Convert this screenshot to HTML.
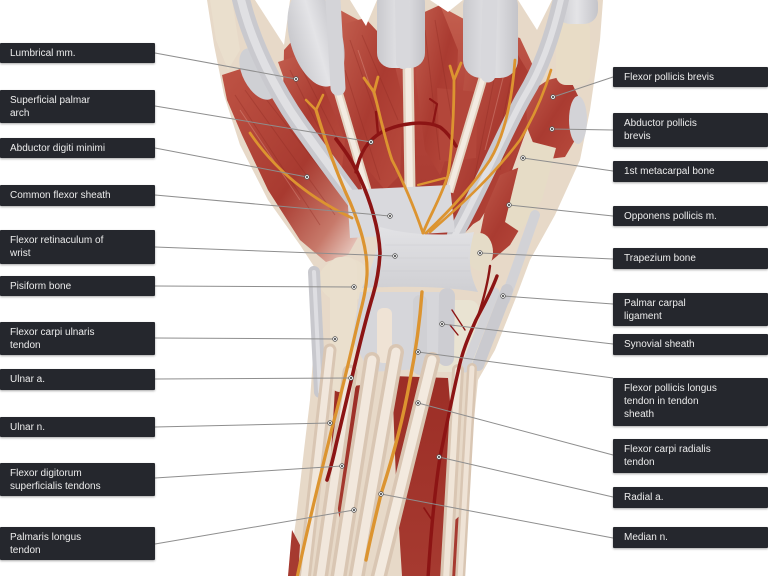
<!DOCTYPE html>
<html><head><meta charset="utf-8">
<style>
html,body{margin:0;padding:0;background:#fff;}
body{width:768px;height:576px;position:relative;overflow:hidden;font-family:"Liberation Sans",Arial,sans-serif;}
svg{position:absolute;left:0;top:0;}
.lb{position:absolute;background:#25272d;color:#ededed;font-size:10px;line-height:13.3px;padding:3.5px 6px 3.5px 10px;box-sizing:border-box;border-radius:1px;box-shadow:0 1px 2px rgba(0,0,0,.35);white-space:nowrap;}
.l{left:0;width:155px;}
.r{left:613px;width:155px;padding-left:11px;}
</style></head><body>
<svg width="768" height="576" viewBox="0 0 768 576" xmlns="http://www.w3.org/2000/svg">
<defs>
<linearGradient id="mu" x1="0" y1="0" x2="1" y2="1">
<stop offset="0" stop-color="#c25e4e"/><stop offset="0.5" stop-color="#aa3b31"/><stop offset="1" stop-color="#b94c3e"/>
</linearGradient>
<linearGradient id="mv" x1="0" y1="0" x2="0" y2="1">
<stop offset="0" stop-color="#c4604f"/><stop offset="0.4" stop-color="#b2443a"/><stop offset="1" stop-color="#a7392f"/>
</linearGradient>
<linearGradient id="hy" x1="0" y1="0" x2="1" y2="1">
<stop offset="0" stop-color="#bf5445"/><stop offset="0.55" stop-color="#a83a30"/><stop offset="0.8" stop-color="#c7796a"/><stop offset="1" stop-color="#f4e6de"/>
</linearGradient>
<linearGradient id="gr" x1="0" y1="0" x2="1" y2="0">
<stop offset="0" stop-color="#c9c9cd"/><stop offset="0.5" stop-color="#e4e4e7"/><stop offset="1" stop-color="#c4c4c9"/>
</linearGradient>
<linearGradient id="ret" x1="0" y1="0" x2="0" y2="1">
<stop offset="0" stop-color="#e2e2e5"/><stop offset="1" stop-color="#cfcfd3"/>
</linearGradient>
<linearGradient id="fm" x1="0" y1="0" x2="0" y2="1">
<stop offset="0" stop-color="#9c2e26"/><stop offset="1" stop-color="#a63a30"/>
</linearGradient>
</defs>

<!-- base silhouette -->
<path d="M207,0 L603,0 L600,40 L590,110 L580,160 L555,215 L530,260 L515,300 L495,350 L478,380 L472,440 L462,576 L288,576 L296,520 L304,450 L310,400 L315,330 L318,290 L315,268 L300,245 L268,200 L240,145 L224,95 L214,45 Z" fill="#e7d9c8"/>

<!-- forearm red muscles -->
<path d="M335,388 L362,385 L360,470 L340,520 L330,470 Z" fill="url(#fm)"/>
<path d="M392,376 L448,378 L455,460 L448,576 L402,576 L396,480 Z" fill="url(#fm)"/>
<path d="M288,576 L292,530 L300,545 L298,576 Z" fill="#a63a30"/>
<path d="M455,520 L466,510 L462,576 L452,576 Z" fill="#a63a30"/>

<!-- palm red backdrop -->
<path d="M284,50 L300,32 L340,10 L362,22 L380,55 L420,18 L440,6 L462,18 L482,28 L520,38 L535,70 L530,120 L505,190 L462,236 L350,236 L300,165 L283,95 Z" fill="url(#mv)"/>

<!-- hand muscles -->
<path d="M222,75 L262,62 L300,120 L352,190 L362,230 L348,255 L326,262 L300,240 L268,190 L242,135 L227,100 Z" fill="url(#hy)"/>
<path d="M278,62 L300,55 L325,90 L345,140 L342,168 L322,162 L296,112 Z" fill="url(#mu)"/>
<path d="M340,25 L365,18 L390,45 L403,100 L400,175 L385,190 L360,160 L345,110 Z" fill="url(#mu)"/>
<path d="M418,15 L440,5 L458,50 L455,130 L440,175 L425,150 L416,80 Z" fill="url(#mu)"/>
<path d="M468,50 L490,35 L515,50 L533,80 L527,130 L505,180 L480,220 L460,232 L452,200 L458,130 Z" fill="url(#mu)"/>
<path d="M437,88 L478,92 L476,158 L440,162 Z" fill="#b3463a"/>
<path d="M525,95 L548,80 L568,75 L580,100 L578,135 L565,157 L540,160 L528,130 Z" fill="url(#mu)"/>
<path d="M500,175 L525,165 L535,185 L528,215 L510,245 L490,262 L478,245 L485,210 Z" fill="url(#mu)"/>

<!-- muscle fibre texture -->
<g stroke="#8e2a22" stroke-width="1" opacity="0.35" fill="none">
<path d="M235,95 L320,225 M245,90 L335,215 M255,85 L345,200"/>
<path d="M350,40 L395,170 M362,35 L398,120 M345,70 L380,180"/>
<path d="M425,30 L440,160 M435,20 L452,120"/>
<path d="M500,50 L470,200 M515,60 L490,180 M525,80 L500,170"/>
<path d="M290,70 L335,160 M300,65 L338,140"/>
</g>
<g stroke="#e9a89a" stroke-width="1" opacity="0.35" fill="none">
<path d="M240,110 L300,200 M358,50 L385,130 M505,70 L485,150"/>
</g>

<!-- top gaps between fingers -->
<path d="M255,0 L290,0 L284,45 Z" fill="#fff"/>
<path d="M350,0 L377,0 L366,26 Z" fill="#fff"/>
<path d="M430,0 L463,0 L448,12 Z" fill="#fff"/>
<path d="M518,0 L552,0 L537,30 Z" fill="#fff"/>

<!-- finger bones / cream -->
<path d="M210,0 L232,0 L240,50 L228,70 L216,40 Z" fill="#eadfcd"/>
<rect x="556" y="20" width="34" height="65" rx="10" fill="#e8dcc6"/>
<path d="M525,140 L556,148 L542,200 L520,232 L505,222 Z" fill="#e6dcc6"/>

<!-- cream palm tendons -->
<path d="M337,88 L367,190" stroke="#e3d3c2" stroke-width="9" fill="none"/>
<path d="M337,88 L367,190" stroke="#f3ebe1" stroke-width="5" fill="none"/>
<path d="M408,60 L410,190" stroke="#e3d3c2" stroke-width="11" fill="none"/>
<path d="M408,60 L410,190" stroke="#f4ece2" stroke-width="6" fill="none"/>
<path d="M484,75 L449,192" stroke="#e3d3c2" stroke-width="9" fill="none"/>
<path d="M484,75 L449,192" stroke="#f3ebe1" stroke-width="5" fill="none"/>

<!-- gray finger sheaths -->
<ellipse cx="258" cy="74" rx="15" ry="28" transform="rotate(-28 258 74)" fill="#cfd0d4"/>
<ellipse cx="316" cy="38" rx="26" ry="50" transform="rotate(-16 316 38)" fill="url(#gr)"/>
<rect x="377" y="-12" width="48" height="80" rx="15" fill="url(#gr)"/>
<rect x="463" y="-12" width="55" height="90" rx="18" fill="url(#gr)"/>
<rect x="556" y="-10" width="42" height="34" rx="14" fill="url(#gr)"/>
<ellipse cx="578" cy="120" rx="9" ry="24" fill="#d3d3d7"/>

<path d="M240,-5 C250,40 275,90 300,125 S340,180 355,200" stroke="#c9c9ce" stroke-width="18" fill="none" stroke-linecap="round"/>
<path d="M240,-5 C250,40 275,90 300,125 S340,180 355,200" stroke="#e0e0e3" stroke-width="8" fill="none" stroke-linecap="round"/>
<path d="M333,0 L338,88" stroke="#d4d4d8" stroke-width="15" fill="none" stroke-linecap="round"/>
<path d="M402,0 L403,62" stroke="#d8d8dc" stroke-width="14" fill="none" stroke-linecap="round"/>
<path d="M490,0 L488,75" stroke="#d8d8dc" stroke-width="15" fill="none" stroke-linecap="round"/>
<path d="M562,-5 C552,40 540,70 525,95 S480,190 455,235" stroke="#c9c9ce" stroke-width="16" fill="none" stroke-linecap="round"/>
<path d="M562,-5 C552,40 540,70 525,95 S480,190 455,235" stroke="#e0e0e3" stroke-width="6" fill="none" stroke-linecap="round"/>
<path d="M535,215 L505,300" stroke="#d2d2d6" stroke-width="10" fill="none" stroke-linecap="round"/>

<!-- wrist cream bones -->
<ellipse cx="345" cy="280" rx="26" ry="22" fill="#e9decb"/>
<rect x="330" y="257" width="27" height="135" rx="10" fill="#eadfcd"/>
<ellipse cx="480" cy="252" rx="13" ry="19" fill="#e5dcc8"/>
<rect x="423" y="300" width="56" height="72" rx="10" fill="#e9e3d2"/>

<!-- gray wrist structures -->
<path d="M360,292 L440,292 L450,320 L437,368 L370,372 L352,340 Z" fill="#d6d6da"/>
<path d="M314,272 L320,392" stroke="#c8c8cd" stroke-width="12" fill="none" stroke-linecap="round"/>
<path d="M314,272 L320,392" stroke="#dedee2" stroke-width="4" fill="none" stroke-linecap="round"/>
<path d="M447,296 L446,358" stroke="#cdcdd2" stroke-width="16" fill="none" stroke-linecap="round"/>
<path d="M420,302 L420,368" stroke="#d0d0d4" stroke-width="14" fill="none" stroke-linecap="round"/>
<path d="M507,290 L478,365" stroke="#cacacf" stroke-width="12" fill="none" stroke-linecap="round"/>
<path d="M495,292 L465,368" stroke="#d3d3d7" stroke-width="9" fill="none" stroke-linecap="round"/>
<rect x="377" y="308" width="15" height="55" rx="6" fill="#efe3d5"/>

<!-- common flexor sheath & retinaculum -->
<path d="M347,190 L450,185 L455,232 L350,238 Z" fill="#d9d9dd"/>
<path d="M380,227 C410,236 450,236 474,232 C468,255 468,272 478,292 C440,286 400,286 362,288 C372,268 378,250 380,227 Z" fill="url(#ret)"/>
<g stroke="#c4c4c8" stroke-width="0.6" opacity="0.6">
<path d="M385,245 L470,245 M383,258 L468,258 M380,271 L470,271"/>
</g>

<!-- forearm tendons -->
<g fill="none" stroke-linecap="round">
<path d="M330,350 L304,580" stroke="#d9c6b3" stroke-width="13"/>
<path d="M330,350 L304,580" stroke="#f1e7dc" stroke-width="7"/>
<path d="M350,372 L320,580" stroke="#d9c6b3" stroke-width="15"/>
<path d="M350,372 L320,580" stroke="#f1e7dc" stroke-width="8"/>
<path d="M372,360 L338,580" stroke="#d9c6b3" stroke-width="16"/>
<path d="M372,360 L338,580" stroke="#f2e8dd" stroke-width="9"/>
<path d="M396,352 L356,580" stroke="#d9c6b3" stroke-width="16"/>
<path d="M396,352 L356,580" stroke="#f2e8dd" stroke-width="9"/>
<path d="M432,360 L378,580" stroke="#d9c6b3" stroke-width="16"/>
<path d="M432,360 L378,580" stroke="#f3eadf" stroke-width="9"/>
<path d="M458,370 L446,580" stroke="#d9c6b3" stroke-width="12"/>
<path d="M458,370 L446,580" stroke="#f0e5d8" stroke-width="6"/>
<path d="M472,368 L460,580" stroke="#d9c6b3" stroke-width="10"/>
<path d="M472,368 L460,580" stroke="#efe3d6" stroke-width="5"/>
</g>

<!-- arteries -->
<g fill="none" stroke="#8c1414" stroke-linecap="round" stroke-linejoin="round">
<path d="M336,139 C346,152 353,162 360,178 C370,200 379,228 380,253 C379,272 376,285 373,295 C367,315 362,335 356,360 C349,390 342,420 336,445 C333,460 330,470 327,480" stroke-width="3.6"/>
<path d="M356,172 C360,152 368,140 382,132 C400,123 425,120 440,127 C447,132 452,139 456,146" stroke-width="3.4"/>
<path d="M378,134 L376,112" stroke-width="2.4"/>
<path d="M433,124 L437,104 L430,99" stroke-width="2.2"/>
<path d="M497,276 C490,295 482,308 476,320 C468,338 462,352 458,372 C452,398 446,428 440,457 C435,490 431,530 428,578" stroke-width="3.4"/>
<path d="M490,266 C488,282 484,298 478,316" stroke-width="2.4"/>
<path d="M465,330 L452,310 M458,335 L450,325" stroke-width="1.4"/>
<path d="M432,520 L424,508" stroke-width="1.6"/>
</g>

<!-- nerves -->
<g fill="none" stroke="#dc9430" stroke-linecap="round" stroke-linejoin="round">
<path d="M316,110 C325,140 336,172 350,202 C360,226 368,250 367,275 C366,292 362,305 358,322 C350,356 342,392 332,428 C322,470 309,520 297,578" stroke-width="3.2"/>
<path d="M316,110 L306,100 M316,110 L323,95" stroke-width="2.6"/>
<path d="M250,133 C275,170 310,198 352,218" stroke-width="2.8"/>
<path d="M423,233 C415,210 405,185 392,160 C385,140 380,115 374,92 M374,92 L364,78 M374,92 L378,77" stroke-width="2.8"/>
<path d="M423,233 C430,215 440,200 448,175 C452,150 454,110 454,80 M454,80 L450,66 M454,80 L461,63" stroke-width="2.8"/>
<path d="M426,233 C445,215 470,190 490,160 C505,135 512,100 515,60" stroke-width="2.8"/>
<path d="M430,232 C455,210 490,180 520,140 C535,115 545,90 551,70" stroke-width="2.6"/>
<path d="M418,185 L445,178" stroke-width="2.2"/>
<path d="M422,292 C420,320 416,350 410,380 C403,420 392,460 381,494 C376,515 371,535 366,560" stroke-width="3.4"/>
</g>

<!-- leader lines -->
<g stroke="#8e8e8e" stroke-width="1" fill="none">
<line x1="155" y1="53" x2="296" y2="79"/>
<line x1="155" y1="106" x2="371" y2="142"/>
<line x1="155" y1="148" x2="307" y2="177"/>
<line x1="155" y1="195" x2="390" y2="216"/>
<line x1="155" y1="247" x2="395" y2="256"/>
<line x1="155" y1="286" x2="354" y2="287"/>
<line x1="155" y1="338" x2="335" y2="339"/>
<line x1="155" y1="379" x2="351" y2="378"/>
<line x1="155" y1="427" x2="330" y2="423"/>
<line x1="155" y1="478" x2="342" y2="466"/>
<line x1="155" y1="544" x2="354" y2="510"/>
<line x1="613" y1="77" x2="553" y2="97"/>
<line x1="613" y1="130" x2="552" y2="129"/>
<line x1="613" y1="171" x2="523" y2="158"/>
<line x1="613" y1="216" x2="509" y2="205"/>
<line x1="613" y1="259" x2="480" y2="253"/>
<line x1="613" y1="304" x2="503" y2="296"/>
<line x1="613" y1="344" x2="442" y2="324"/>
<line x1="613" y1="378" x2="418" y2="352"/>
<line x1="613" y1="455" x2="418" y2="403"/>
<line x1="613" y1="497" x2="439" y2="457"/>
<line x1="613" y1="538" x2="381" y2="494"/>
</g>
<g fill="#ffffff" stroke="#555" stroke-width="0.8">
<circle cx="296" cy="79" r="2.3"/><circle cx="371" cy="142" r="2.3"/><circle cx="307" cy="177" r="2.3"/>
<circle cx="390" cy="216" r="2.3"/><circle cx="395" cy="256" r="2.3"/><circle cx="354" cy="287" r="2.3"/>
<circle cx="335" cy="339" r="2.3"/><circle cx="351" cy="378" r="2.3"/><circle cx="330" cy="423" r="2.3"/>
<circle cx="342" cy="466" r="2.3"/><circle cx="354" cy="510" r="2.3"/>
<circle cx="553" cy="97" r="2.3"/><circle cx="552" cy="129" r="2.3"/><circle cx="523" cy="158" r="2.3"/>
<circle cx="509" cy="205" r="2.3"/><circle cx="480" cy="253" r="2.3"/><circle cx="503" cy="296" r="2.3"/>
<circle cx="442" cy="324" r="2.3"/><circle cx="418" cy="352" r="2.3"/><circle cx="418" cy="403" r="2.3"/>
<circle cx="439" cy="457" r="2.3"/><circle cx="381" cy="494" r="2.3"/>
</g>
<g fill="#333">
<circle cx="296" cy="79" r="1"/><circle cx="371" cy="142" r="1"/><circle cx="307" cy="177" r="1"/>
<circle cx="390" cy="216" r="1"/><circle cx="395" cy="256" r="1"/><circle cx="354" cy="287" r="1"/>
<circle cx="335" cy="339" r="1"/><circle cx="351" cy="378" r="1"/><circle cx="330" cy="423" r="1"/>
<circle cx="342" cy="466" r="1"/><circle cx="354" cy="510" r="1"/>
<circle cx="553" cy="97" r="1"/><circle cx="552" cy="129" r="1"/><circle cx="523" cy="158" r="1"/>
<circle cx="509" cy="205" r="1"/><circle cx="480" cy="253" r="1"/><circle cx="503" cy="296" r="1"/>
<circle cx="442" cy="324" r="1"/><circle cx="418" cy="352" r="1"/><circle cx="418" cy="403" r="1"/>
<circle cx="439" cy="457" r="1"/><circle cx="381" cy="494" r="1"/>
</g>
</svg>

<div class="lb l" style="top:43px;height:20px">Lumbrical mm.</div>
<div class="lb l" style="top:90px;height:33px">Superficial palmar<br>arch</div>
<div class="lb l" style="top:138px;height:20px">Abductor digiti minimi</div>
<div class="lb l" style="top:185px;height:21px">Common flexor sheath</div>
<div class="lb l" style="top:230px;height:34px">Flexor retinaculum of<br>wrist</div>
<div class="lb l" style="top:276px;height:20px">Pisiform bone</div>
<div class="lb l" style="top:322px;height:33px">Flexor carpi ulnaris<br>tendon</div>
<div class="lb l" style="top:369px;height:21px">Ulnar a.</div>
<div class="lb l" style="top:417px;height:20px">Ulnar n.</div>
<div class="lb l" style="top:463px;height:33px">Flexor digitorum<br>superficialis tendons</div>
<div class="lb l" style="top:527px;height:33px">Palmaris longus<br>tendon</div>

<div class="lb r" style="top:67px;height:20px">Flexor pollicis brevis</div>
<div class="lb r" style="top:113px;height:34px">Abductor pollicis<br>brevis</div>
<div class="lb r" style="top:161px;height:21px">1st metacarpal bone</div>
<div class="lb r" style="top:206px;height:20px">Opponens pollicis m.</div>
<div class="lb r" style="top:248px;height:21px">Trapezium bone</div>
<div class="lb r" style="top:293px;height:33px">Palmar carpal<br>ligament</div>
<div class="lb r" style="top:334px;height:21px">Synovial sheath</div>
<div class="lb r" style="top:378px;height:48px">Flexor pollicis longus<br>tendon in tendon<br>sheath</div>
<div class="lb r" style="top:439px;height:34px">Flexor carpi radialis<br>tendon</div>
<div class="lb r" style="top:487px;height:21px">Radial a.</div>
<div class="lb r" style="top:527px;height:21px">Median n.</div>
</body></html>
